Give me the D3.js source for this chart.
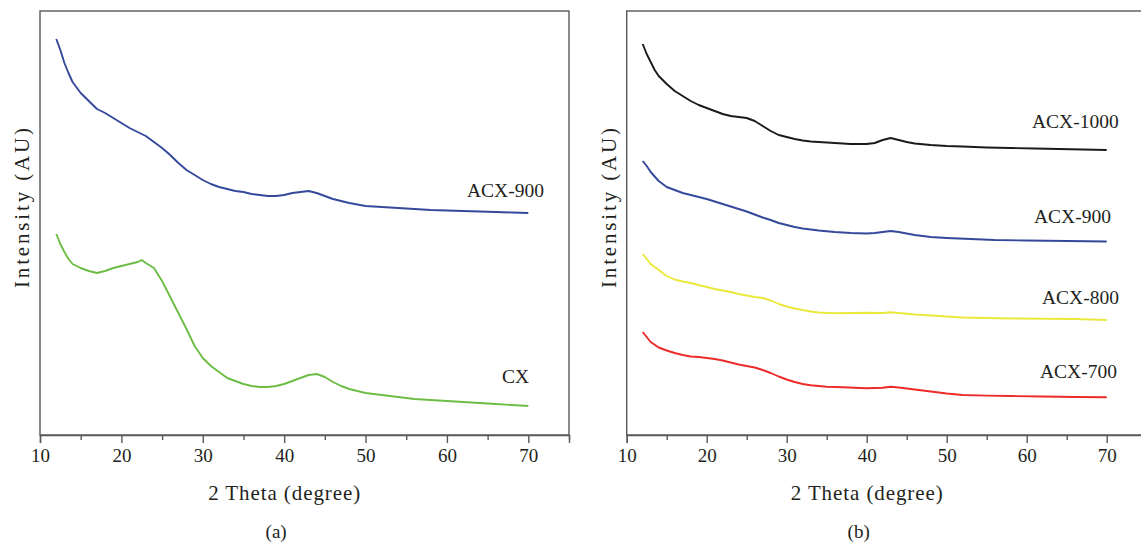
<!DOCTYPE html>
<html>
<head>
<meta charset="utf-8">
<script src="https://cdn.jsdelivr.net/npm/d3@7"></script>
<style>
  body { margin: 0; background: #fff; }
  svg { display: block; }
  text { font-family: "Liberation Serif", "Times New Roman", serif; fill: #231f20; }
</style>
</head>
<body>
<script>
'use strict';

// 2 theta positions and intensities (AU)
const thetaCX = [12, 12.5, 13, 13.5, 14, 15, 16, 17, 18, 19, 20, 21, 22, 22.5, 23, 24, 25, 26, 27, 28, 29, 30, 31, 32, 33, 34, 35, 36, 37, 38, 39, 40, 41, 42, 43, 44, 45, 46, 47, 48, 50, 52, 54, 56, 58, 60, 62, 64, 66, 68, 70];
const intensityCX = [201, 191, 183, 176, 171, 167, 164, 162, 164, 167, 169, 171, 173, 175, 172, 167, 154, 138, 122, 106, 89, 77, 69, 63, 57, 54, 51, 49, 48, 48, 49, 51, 54, 57, 60, 61, 58, 53, 49, 46, 42, 40, 38, 36, 35, 34, 33, 32, 31, 30, 29];

const thetaA900 = [12, 12.5, 13, 13.5, 14, 15, 16, 17, 18, 19, 20, 21, 22, 23, 24, 25, 26, 27, 28, 29, 30, 31, 32, 33, 34, 35, 36, 37, 38, 39, 40, 41, 42, 43, 44, 45, 46, 47, 48, 50, 52, 54, 56, 58, 60, 62, 64, 66, 68, 70];
const intensityA900 = [396, 385, 372, 362, 353, 342, 334, 326, 322, 317, 312, 307, 303, 299, 293, 287, 280, 272, 265, 260, 255, 251, 248, 246, 244, 243, 241, 240, 239, 239, 240, 242, 243, 244, 242, 239, 236, 234, 232, 229, 228, 227, 226, 225, 224.5, 224, 223.5, 223, 222.5, 222];

const theta1000 = [12, 12.5, 13, 13.5, 14, 15, 16, 17, 18, 19, 20, 21, 22, 23, 24, 25, 26, 27, 28, 29, 30, 31, 32, 33, 34, 36, 38, 40, 41, 42, 43, 44, 45, 46, 48, 50, 52, 55, 58, 61, 64, 67, 70];
const intensity1000 = [391, 381, 373, 365, 359, 351, 344, 339, 334, 330, 327, 324, 321, 319, 318, 317, 314, 309, 304, 300, 298, 296, 294.5, 293.5, 293, 292, 291, 291, 292, 295, 297, 295, 293, 291.5, 290, 289, 288.5, 287.5, 287, 286.5, 286, 285.5, 285];

const theta900 = [12, 12.5, 13, 14, 15, 16, 17, 18, 19, 20, 21, 22, 23, 24, 25, 26, 27, 28, 29, 30, 31, 32, 34, 36, 38, 40, 41, 42, 43, 44, 45, 46, 48, 50, 53, 56, 60, 65, 70];
const intensity900 = [274, 269, 263, 254, 248, 245, 242, 240, 238, 236, 233.5, 231, 228.5, 226, 223.5, 220.5, 217.5, 215, 212, 210, 208, 206.5, 204.5, 203, 202, 201.5, 202, 203, 204, 203, 201.5, 200, 198, 197, 196, 195, 194.5, 194, 193.5];

const theta800 = [12, 12.5, 13, 14, 15, 16, 17, 18, 19, 20, 21, 22, 23, 24, 25, 26, 27, 28, 29, 30, 31, 32, 33, 34, 36, 38, 40, 42, 43, 44, 46, 48, 50, 52, 55, 58, 62, 66, 70];
const intensity800 = [181, 176, 171, 165, 159, 155.5, 153.5, 152, 150, 148, 146, 144.5, 143, 141, 139.5, 138, 137, 134.5, 131, 128.5, 126.5, 125, 123.5, 122.5, 121.7, 122, 122.3, 122, 122.7, 122, 120.5, 119.5, 118.5, 117.5, 117, 116.5, 116.3, 116, 115];

const theta700 = [12, 12.5, 13, 14, 15, 16, 17, 18, 19, 20, 21, 22, 23, 24, 25, 26, 27, 28, 29, 30, 31, 32, 33, 35, 37, 40, 42, 43, 44, 46, 48, 50, 52, 55, 58, 62, 66, 70];
const intensity700 = [103, 98, 93, 87.5, 84.5, 82, 80, 78.5, 78, 77, 76, 74.5, 72.5, 70.5, 69, 67.5, 65, 62, 58.5, 55.5, 53, 51, 49.8, 48.3, 47.7, 46.8, 47.3, 48.3, 47.5, 45.5, 43.5, 41.5, 40, 39.4, 39, 38.5, 38, 37.7];

const majorTicks = [10, 20, 30, 40, 50, 60, 70];
const minorTicks = [15, 25, 35, 45, 55, 65, 75];

const xTitle = '2 Theta (degree)';
const yTitle = 'Intensity (AU)';

let svg = d3.select('body').append('svg')
  .attr('width', 1141)
  .attr('height', 542);

function zip(xs, ys) {
  return xs.map((x, i) => ({ x: x, y: ys[i] }));
}

// draws one panel: frame, ticks, curves, labels
function drawPanel(left, right, series, caption) {
  let top = 11, bottom = 435;
  let g = svg.append('g');

  let xScale = d3.scaleLinear().domain([10, 75]).range([left, right]);
  let yScale = d3.scaleLinear().domain([0, 424]).range([bottom, top]);

  // box
  g.append('rect')
    .attr('x', left).attr('y', top)
    .attr('width', right - left).attr('height', bottom - top)
    .attr('fill', 'none')
    .attr('stroke', '#58595b')
    .attr('stroke-width', 1.4);

  let minorAxis = d3.axisBottom(xScale).tickValues(minorTicks).tickSize(5).tickFormat('');
  g.append('g')
    .attr('transform', `translate(0, ${bottom})`)
    .call(minorAxis)
    .call(a => a.select('.domain').remove())
    .call(a => a.selectAll('line').attr('stroke', '#58595b').attr('stroke-width', 1.4));

  let xAxis = d3.axisBottom(xScale).tickValues(majorTicks).tickSize(8).tickPadding(6);
  g.append('g')
    .attr('transform', `translate(0, ${bottom})`)
    .call(xAxis)
    .call(a => a.select('.domain').attr('stroke', '#58595b').attr('stroke-width', 1.4))
    .call(a => a.selectAll('line').attr('stroke', '#58595b').attr('stroke-width', 1.4))
    .call(a => a.selectAll('text')
      .attr('fill', '#231f20')
      .style('font-family', '"Liberation Serif", serif')
      .style('font-size', '19px'));

  let line = d3.line()
    .x(d => xScale(d.x))
    .y(d => yScale(d.y));

  series.forEach(s => {
    g.append('path')
      .datum(zip(s.theta, s.values))
      .attr('fill', 'none')
      .attr('stroke', s.color)
      .attr('stroke-width', 1.9)
      .attr('stroke-linejoin', 'round')
      .attr('d', line);

    g.append('text')
      .attr('x', s.labelX)
      .attr('y', s.labelY)
      .style('font-size', '19.5px')
      .text(s.name);
  });

  // axis titles
  let mid = (left + xScale(70)) / 2;
  g.append('text')
    .attr('x', mid)
    .attr('y', 500)
    .attr('text-anchor', 'middle')
    .attr('textLength', 152)
    .attr('lengthAdjust', 'spacing')
    .style('font-size', '21px')
    .text(xTitle);

  g.append('text')
    .attr('transform', `translate(${left - 11}, 208) rotate(-90)`)
    .attr('text-anchor', 'middle')
    .attr('textLength', 160)
    .attr('lengthAdjust', 'spacing')
    .style('font-size', '21px')
    .text(yTitle);

  g.append('text')
    .attr('x', mid - 8)
    .attr('y', 538)
    .attr('text-anchor', 'middle')
    .style('font-size', '19px')
    .text(caption);
}

drawPanel(40, 569, [
  { name: 'ACX-900', theta: thetaA900, values: intensityA900, color: '#34499c', labelX: 467, labelY: 197 },
  { name: 'CX', theta: thetaCX, values: intensityCX, color: '#6dbd45', labelX: 502, labelY: 383 }
], '(a)');

drawPanel(626.7, 1146.7, [
  { name: 'ACX-1000', theta: theta1000, values: intensity1000, color: '#1a1a1a', labelX: 1032, labelY: 128 },
  { name: 'ACX-900', theta: theta900, values: intensity900, color: '#34499c', labelX: 1034, labelY: 223 },
  { name: 'ACX-800', theta: theta800, values: intensity800, color: '#ebe83c', labelX: 1042, labelY: 304 },
  { name: 'ACX-700', theta: theta700, values: intensity700, color: '#ee2b2b', labelX: 1040, labelY: 378 }
], '(b)');
</script>
</body>
</html>
